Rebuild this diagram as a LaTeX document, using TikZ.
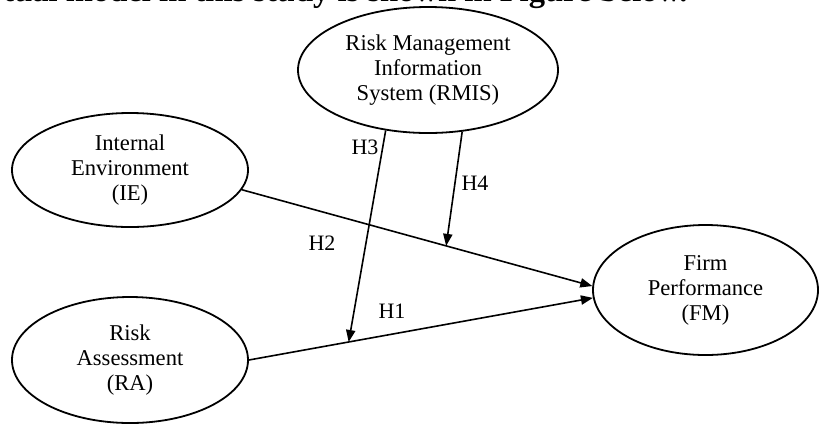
\documentclass[tikz,border=0pt]{standalone}
\usepackage{fontspec}
\setmainfont{Liberation Serif}
\usetikzlibrary{shapes.geometric,arrows.meta,calc}
\begin{document}
\begin{tikzpicture}[x=0.5pt,y=-0.5pt,
  construct/.style={draw,ellipse,line width=0.9pt,inner sep=0pt,align=center,
    font=\fontsize{11.3pt}{12.5pt}\selectfont},
  link/.style={line width=0.8pt,-{Triangle[length=6pt,width=4.6pt]}},
  hyp/.style={font=\fontsize{11pt}{12.5pt}\selectfont,inner sep=0pt}]
\useasboundingbox (0,0) rectangle (819,425);
\clip (0,0) rectangle (819,425);
\node[anchor=base east,font=\fontsize{16.3pt}{18pt}\selectfont\bfseries,inner sep=0pt] (cap) at (688,1.5) {The conceptual model in this study is shown in Figure below.};
\node[construct,minimum width=130pt,minimum height=63pt] (RMIS) at (428,70) {Risk Management\\Information\\System (RMIS)};
\node[construct,minimum width=118pt,minimum height=57pt] (IE) at (130,170) {Internal\\Environment\\(IE)};
\node[construct,minimum width=118pt,minimum height=63pt] (RA) at (130,360) {Risk\\Assessment\\(RA)};
\node[construct,minimum width=112.5pt,minimum height=65pt] (FM) at (705.5,290) {Firm\\Performance\\(FM)};
\draw[link] (IE.-10) -- (FM.178);
\draw[link] (RA.east) -- (FM.184);
\coordinate (m2) at ($(IE.-10)!0.583!(FM.178)$);
\coordinate (m1) at ($(RA.east)!0.29!(FM.184)$);
\draw[link] (RMIS.235) -- (m1);
\draw[link] (RMIS.-61) -- (m2);
\node[hyp] (h3) at (365,147) {H3};
\node[hyp] (h4) at (475,183) {H4};
\node[hyp] (h2) at (322,243) {H2};
\node[hyp] (h1) at (392,311) {H1};
\end{tikzpicture}
\end{document}
